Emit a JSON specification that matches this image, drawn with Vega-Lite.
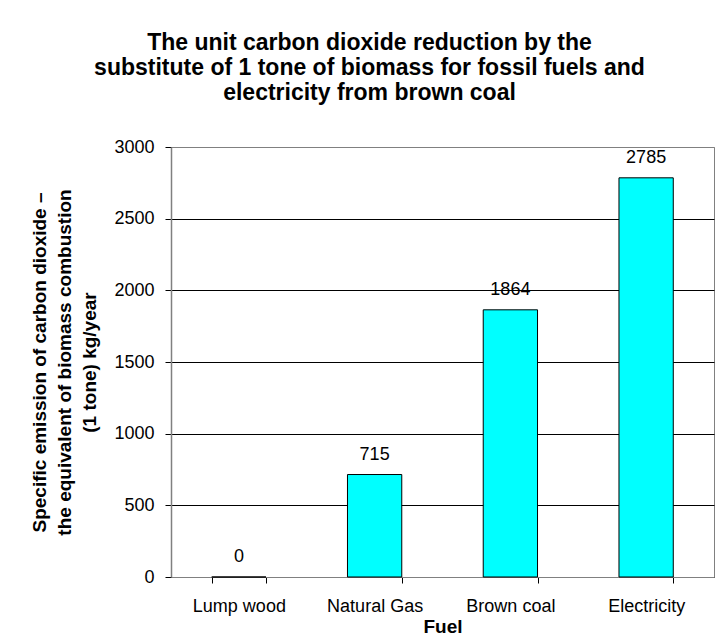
{
  "$schema": "https://vega.github.io/schema/vega-lite/v6.json",
  "width": 543,
  "height": 430,
  "autosize": "none",
  "padding": {"left": 171, "top": 147, "right": 3, "bottom": 62},
  "background": "white",
  "title": {
    "text": ["The unit carbon dioxide reduction by the", "substitute of 1 tone of biomass for fossil fuels and", "electricity from brown coal"],
    "font": "Liberation Sans",
    "fontSize": 23,
    "fontWeight": "bold",
    "lineHeight": 25,
    "color": "black",
    "anchor": "middle",
    "frame": "group",
    "dx": -73,
    "offset": 33
  },
  "data": {
    "values": [
      {"Fuel": "Lump wood", "value": 0},
      {"Fuel": "Natural Gas", "value": 715},
      {"Fuel": "Brown coal", "value": 1864},
      {"Fuel": "Electricity", "value": 2785}
    ]
  },
  "encoding": {
    "x": {
      "field": "Fuel",
      "type": "nominal",
      "sort": null,
      "scale": {"paddingInner": 0.6, "paddingOuter": 0.3},
      "axis": {
        "title": "Fuel",
        "labelAngle": 0,
        "tickBand": "extent",
        "tickSize": 6,
        "tickColor": "black",
        "domainColor": "#808080",
        "labelPadding": 14,
        "titlePadding": 2,
        "grid": false
      }
    },
    "y": {
      "field": "value",
      "type": "quantitative",
      "scale": {"domain": [0, 3000], "nice": false},
      "axis": {
        "title": ["Specific emission of carbon dioxide –", "the equivalent of biomass combustion", "(1 tone) kg/year"],
        "values": [0, 500, 1000, 1500, 2000, 2500, 3000],
        "format": "d",
        "tickSize": 6,
        "tickColor": "black",
        "domainColor": "#808080",
        "domainWidth": 1.5,
        "labelPadding": 11,
        "titlePadding": 14,
        "titleLineHeight": 25,
        "grid": true,
        "gridColor": {"condition": {"test": "datum.value == 3000", "value": "#808080"}, "value": "black"},
        "gridOpacity": 1
      }
    }
  },
  "layer": [
    {"mark": {"type": "bar", "fill": "#00FFFF", "stroke": "black", "strokeWidth": 1}},
    {
      "mark": {"type": "text", "baseline": "alphabetic", "dy": -15, "fontSize": 18, "font": "Liberation Sans", "color": "black"},
      "encoding": {"text": {"field": "value", "type": "quantitative"}}
    }
  ],
  "config": {
    "view": {"stroke": "#808080", "strokeWidth": 1},
    "axis": {
      "labelFont": "Liberation Sans",
      "labelFontSize": 18,
      "labelColor": "black",
      "titleFont": "Liberation Sans",
      "titleFontSize": 19,
      "titleFontWeight": "bold",
      "titleColor": "black"
    }
  }
}
